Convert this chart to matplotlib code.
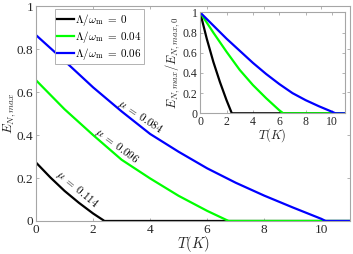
import numpy as np
import matplotlib
matplotlib.use('Agg')
import matplotlib.pyplot as plt

plt.rcParams['font.family'] = ['Liberation Serif', 'DejaVu Serif']
plt.rcParams['mathtext.fontset'] = 'cm'

# main panel: E_N,max vs T for three coupling strengths
T_black = [0, 0.5, 1, 1.5, 2, 2.4, 11]
E_black = [0.272, 0.203, 0.14, 0.085, 0.035, 0, 0]
T_green = [0, 1, 2, 3, 4, 5, 6, 6.75, 11]
E_green = [0.655, 0.52, 0.40, 0.285, 0.198, 0.117, 0.047, 0, 0]
T_blue = [0, 1, 2, 3, 4, 5, 6, 7, 8, 9, 10, 10.15, 11]
E_blue = [0.865, 0.745, 0.622, 0.51, 0.405, 0.322, 0.245, 0.178, 0.118, 0.063, 0.01, 0, 0]

# inset: normalised E_N,max / E_N,max,0
Ti_black = [0, 0.5, 1, 1.5, 2, 2.4, 11]
Ri_black = [1, 0.74, 0.51, 0.31, 0.13, 0, 0]
Ti_green = [0, 1, 2, 3, 4, 5, 6, 6.3, 11]
Ri_green = [1, 0.80, 0.61, 0.43, 0.28, 0.15, 0.03, 0, 0]
Ti_blue = [0, 1, 2, 3, 4, 5, 6, 7, 8, 9, 10, 10.25, 11]
Ri_blue = [1, 0.87, 0.74, 0.62, 0.50, 0.39, 0.29, 0.20, 0.13, 0.07, 0.015, 0, 0]

labels = [r'$\Lambda/\omega_{\rm m}\;=\;0$', r'$\Lambda/\omega_{\rm m}\;=\;0.04$', r'$\Lambda/\omega_{\rm m}\;=\;0.06$']
mu_labels = [r'$\mu\;=\;0.114$', r'$\mu\;=\;0.096$', r'$\mu\;=\;0.084$']
colors = ['black', '#00ff00', '#0000ff']

ticks_y = [0, 0.2, 0.4, 0.6, 0.8, 1]
ticks_y_lab = ['0', '0.2', '0.4', '0.6', '0.8', '1']
ticks_x = [0, 2, 4, 6, 8, 10]

spine_col = '#a6a6a6'
lab_col = '#262626'


def style(ax, fs):
    for s in ax.spines.values():
        s.set_color(spine_col)
        s.set_linewidth(0.8)
    ax.tick_params(direction='in', length=2.5, width=0.6, color=spine_col,
                   labelcolor=lab_col, labelsize=fs, top=True, right=True, pad=2)
    ax.set_xlim(0, 11)
    ax.set_ylim(0, 1)
    ax.set_xticks(ticks_x)
    ax.set_yticks(ticks_y)
    ax.set_yticklabels(ticks_y_lab)


fig = plt.figure(figsize=(3.53, 2.54), dpi=100)
ax = fig.add_axes([0.102, 0.130, 0.889, 0.846])
style(ax, 9.5)
lw = 1.6
ax.plot(T_black, E_black, color=colors[0], lw=lw, label=labels[0])
ax.plot(T_green, E_green, color=colors[1], lw=lw, label=labels[1])
ax.plot(T_blue, E_blue, color=colors[2], lw=lw, label=labels[2])
ax.set_xlabel(r'$T(K)$', fontsize=10.5, color=lab_col, labelpad=-1)
ax.set_ylabel(r'$E_{N,max}$', fontsize=9.5, color=lab_col, labelpad=-1)

ax.text(1.44, 0.15, mu_labels[0], rotation=-40, fontsize=8, ha='center', va='center', rotation_mode='anchor')
ax.text(2.84, 0.35, mu_labels[1], rotation=-37, fontsize=8, ha='center', va='center', rotation_mode='anchor')
ax.text(3.65, 0.485, mu_labels[2], rotation=-34, fontsize=8, ha='center', va='center', rotation_mode='anchor')

leg = ax.legend(loc='upper left', bbox_to_anchor=(0.06, 0.985), fontsize=8, frameon=True,
                fancybox=False, framealpha=1, edgecolor=spine_col, handlelength=1.5,
                handletextpad=0.15, borderpad=0.2, labelspacing=0.1, borderaxespad=0)
leg.get_frame().set_linewidth(0.6)

ins = fig.add_axes([0.567, 0.554, 0.411, 0.397])
style(ins, 8.5)
ins.plot(Ti_black, Ri_black, color=colors[0], lw=lw)
ins.plot(Ti_green, Ri_green, color=colors[1], lw=lw)
ins.plot(Ti_blue, Ri_blue, color=colors[2], lw=lw)
ins.set_xlabel(r'$T(K)$', fontsize=9, color=lab_col, labelpad=-1)
ins.set_ylabel(r'$E_{N,max}/E_{N,max,0}$', fontsize=9, color=lab_col, labelpad=0)

fig.savefig('out.png', dpi=100)
